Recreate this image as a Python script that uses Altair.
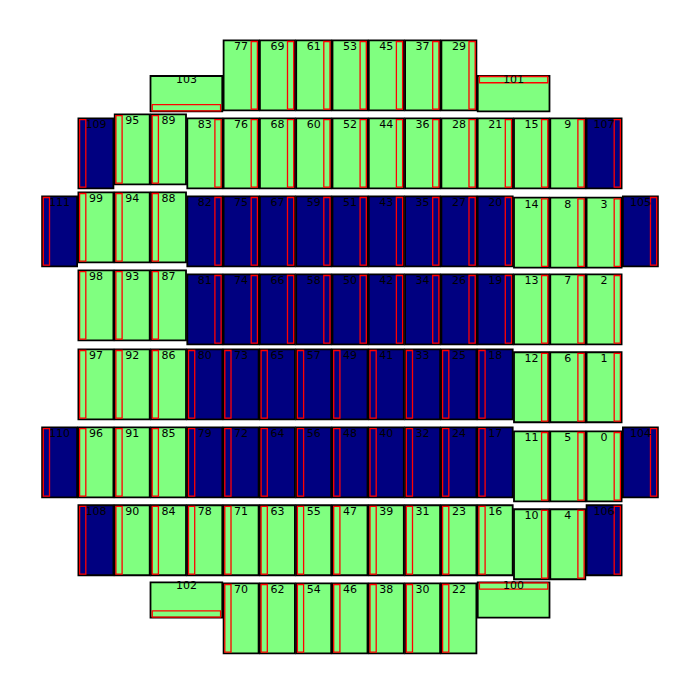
import altair as alt
import pandas as pd

# ---- layout data (mm, focal-plane coordinates, y up) ----
CCD_W = 30.72
CCD_H = 61.44
FOCUS_W = 63.0
FOCUS_H = 31.0
COL_PITCH = 31.86
ROW_Y = [238.3, 169.8, 101.4, 32.9, -32.9, -101.4, -169.8, -238.3]
ROW_START_COL = [5, 1, 0, 1, 1, 0, 1, 5]
ROW_IDS = [
    [77, 69, 61, 53, 45, 37, 29],
    [109, 95, 89, 83, 76, 68, 60, 52, 44, 36, 28, 21, 15, 9, 107],
    [111, 99, 94, 88, 82, 75, 67, 59, 51, 43, 35, 27, 20, 14, 8, 3, 105],
    [98, 93, 87, 81, 74, 66, 58, 50, 42, 34, 26, 19, 13, 7, 2],
    [97, 92, 86, 80, 73, 65, 57, 49, 41, 33, 25, 18, 12, 6, 1],
    [110, 96, 91, 85, 79, 72, 64, 56, 48, 40, 32, 24, 17, 11, 5, 0, 104],
    [108, 90, 84, 78, 71, 63, 55, 47, 39, 31, 23, 16, 10, 4, 106],
    [70, 62, 54, 46, 38, 30, 22],
]
ROW_SIDES = [
    "RRRRRRR",
    "LLLRRRRRRRRRRRR",
    "LLLLRRRRRRRRRRRRR",
    "LLLRRRRRRRRRRRR",
    "LLLLLLLLLLLLRRR",
    "LLLLLLLLLLLLLRRRR",
    "LLLLLLLLLLLLRRR",
    "LLLLLLL",
]
SHIFT_Y = {95: 3.5, 89: 3.5, 99: 3.5, 94: 3.5, 88: 3.5, 98: 3.5, 93: 3.5, 87: 3.5,
           14: -1.2, 8: -1.2, 3: -1.2, 12: -2.6, 6: -2.6, 1: -2.6,
           11: -3.5, 5: -3.5, 0: -3.5, 10: -3.5, 4: -3.5}
FOCUS_IDS = [103, 101, 102, 100]
FOCUS_X = [-143.6, 143.6, -143.6, 143.6]
FOCUS_Y = [222.2, 222.2, -222.2, -222.2]
FOCUS_SIDE = ["B", "T", "B", "T"]
NAVY_IDS = [17, 18, 19, 20, 24, 25, 26, 27, 32, 33, 34, 35, 40, 41, 42, 43,
            48, 49, 50, 51, 56, 57, 58, 59, 64, 65, 66, 67, 72, 73, 74, 75,
            79, 80, 81, 82, 104, 105, 106, 107, 108, 109, 110, 111]

STRIP_W = 5.45
STRIP_IN = 1.05
FSTRIP_H = 5.5
FSTRIP_IN_X = 1.5
FSTRIP_IN_Y = 0.45
LABEL_DROP = 8.8
FLABEL_DROP = 5.9

chips, strips = [], []
for r, ids in enumerate(ROW_IDS):
    for i, cid in enumerate(ids):
        col = ROW_START_COL[r] + i
        cx = (col - 8) * COL_PITCH
        cy = ROW_Y[r] + SHIFT_Y.get(cid, 0.0)
        x0, x1 = cx - CCD_W / 2, cx + CCD_W / 2
        y0, y1 = cy - CCD_H / 2, cy + CCD_H / 2
        chips.append(dict(id=str(cid), x0=x0, x1=x1, y0=y0, y1=y1, cx=cx,
                          ly=y1 - LABEL_DROP,
                          kind="navy" if cid in NAVY_IDS else "green"))
        if ROW_SIDES[r][i] == "R":
            sx1 = x1 - STRIP_IN
            sx0 = sx1 - STRIP_W
        else:
            sx0 = x0 + STRIP_IN
            sx1 = sx0 + STRIP_W
        strips.append(dict(x0=sx0, x1=sx1, y0=y0 + STRIP_IN, y1=y1 - STRIP_IN))

for cid, cx, cy, side in zip(FOCUS_IDS, FOCUS_X, FOCUS_Y, FOCUS_SIDE):
    x0, x1 = cx - FOCUS_W / 2, cx + FOCUS_W / 2
    y0, y1 = cy - FOCUS_H / 2, cy + FOCUS_H / 2
    chips.append(dict(id=str(cid), x0=x0, x1=x1, y0=y0, y1=y1, cx=cx,
                      ly=y1 - FLABEL_DROP,
                      kind="navy" if cid in NAVY_IDS else "green"))
    if side == "B":
        sy0 = y0 + FSTRIP_IN_Y
        sy1 = sy0 + FSTRIP_H
    else:
        sy1 = y1 - FSTRIP_IN_Y
        sy0 = sy1 - FSTRIP_H
    strips.append(dict(x0=x0 + FSTRIP_IN_X, x1=x1 - FSTRIP_IN_X, y0=sy0, y1=sy1))

chip_df = pd.DataFrame(chips)
strip_df = pd.DataFrame(strips)

xs = alt.Scale(domain=[-300.18, 300.18], nice=False, zero=False)
ys = alt.Scale(domain=[-302.99, 297.38], nice=False, zero=False)

base_chip = alt.Chart(chip_df)
rects = base_chip.mark_rect(stroke="black", strokeWidth=1.8).encode(
    x=alt.X("x0:Q", scale=xs, axis=None),
    x2="x1:Q",
    y=alt.Y("y0:Q", scale=ys, axis=None),
    y2="y1:Q",
    fill=alt.Fill("kind:N", scale=alt.Scale(domain=["green", "navy"],
                                             range=["#80FF80", "#000080"]),
                  legend=None),
)
red = alt.Chart(strip_df).mark_rect(fillOpacity=0, fill="white", stroke="#FF0000",
                                    strokeWidth=1.3).encode(
    x=alt.X("x0:Q", scale=xs, axis=None),
    x2="x1:Q",
    y=alt.Y("y0:Q", scale=ys, axis=None),
    y2="y1:Q",
)
labels = base_chip.mark_text(font="DejaVu Sans", fontSize=11, color="black",
                             baseline="alphabetic", align="center").encode(
    x=alt.X("cx:Q", scale=xs, axis=None),
    y=alt.Y("ly:Q", scale=ys, axis=None),
    text="id:N",
)

chart = alt.layer(rects, red, labels).properties(
    width=684, height=684, padding=0
).configure_view(stroke=None)

chart.save("out.html", embed_options={"renderer": "svg", "actions": False})
